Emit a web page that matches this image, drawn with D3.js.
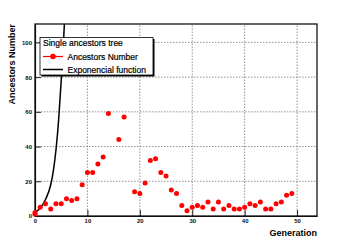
<!DOCTYPE html>
<html lang="en">
<head>
    <meta charset="UTF-8">
    <script src="https://cdn.jsdelivr.net/npm/d3@7"></script>
    <title>Single ancestors tree</title>
    <style>
        html, body {
            margin: 0px;
            padding: 0px;
            background-color: #ffffff;
            font-family: "Liberation Sans", Arial, sans-serif;
        }
        #chart {
            display: block;
        }
        .leg-text {
            font-size: 8.5px;
            stroke: #000;
            stroke-width: 0.2px;
        }
    </style>
</head>
<body>
    <div id="chart"></div>

    <script>
        // data
        let generation = [0, 0, 1, 2, 3, 4, 5, 6, 7, 8, 9, 10, 11, 12, 13, 14, 16, 17, 19, 20,
            21, 22, 23, 24, 25, 26, 27, 28, 29, 30, 31, 32, 33, 34, 35, 36, 37, 38, 39,
            40, 41, 42, 43, 44, 45, 46, 47, 48, 49];
        let ancestors = [1, 2, 5, 7, 4, 7, 7, 10, 9, 10, 18, 25, 25, 30, 34, 59, 44, 57, 14, 13,
            19, 32, 33, 25, 23, 15, 13, 6, 3, 5, 6, 5, 8, 4, 8, 4, 6, 4, 4,
            5, 7, 6, 8, 4, 4, 7, 8, 12, 13];

        // exponential curve, points
        let expGen = [0, 1, 2, 3, 3.5, 4, 4.5, 5, 5.5, 6, 6.3];
        let expVal = [2, 4.6, 9.5, 18, 26, 38, 55, 78, 104, 140, 170];

        let xTicks = [0, 10, 20, 30, 40, 50];
        let yTicks = [0, 20, 40, 60, 80, 100];

        let width = 354;
        let height = 240;
        let margin = {top: 24, right: 37, bottom: 24, left: 35};

        let svg = d3.select('#chart').append('svg')
            .attr('width', width)
            .attr('height', height);

        let x = d3.scaleLinear().domain([0, 53.8]).range([margin.left, width - margin.right]);
        let y = d3.scaleLinear().domain([0, 110.6]).range([height - margin.bottom, margin.top]);

        svg.append('clipPath').attr('id', 'frame-clip')
            .append('rect')
            .attr('x', margin.left).attr('y', margin.top)
            .attr('width', x.range()[1] - margin.left)
            .attr('height', y.range()[0] - margin.top);

        // grid
        let grid = svg.append('g').attr('stroke', '#777').attr('stroke-width', 0.8)
            .attr('stroke-dasharray', '1.5,1.5');
        grid.selectAll('.gx').data(xTicks.filter(d => d > 0)).join('line')
            .attr('x1', d => x(d)).attr('x2', d => x(d))
            .attr('y1', y.range()[0]).attr('y2', y.range()[1]);
        grid.selectAll('.gy').data(yTicks.filter(d => d > 0)).join('line')
            .attr('x1', x.range()[0]).attr('x2', x.range()[1])
            .attr('y1', d => y(d)).attr('y2', d => y(d));

        // axes, ticks pointing inside like ROOT
        let xAxis = svg.append('g')
            .attr('transform', `translate(0,${y.range()[0]})`)
            .call(d3.axisBottom(x).tickValues(xTicks).tickSizeInner(-6).tickSizeOuter(0).tickPadding(3));
        let yAxis = svg.append('g')
            .attr('transform', `translate(${x.range()[0]},0)`)
            .call(d3.axisLeft(y).tickValues(yTicks).tickSizeInner(-6).tickSizeOuter(0).tickPadding(3));
        [xAxis, yAxis].forEach(a => {
            a.selectAll('text')
                .attr('font-size', 6)
                .attr('font-weight', 'bold')
                .attr('font-family', '"Liberation Sans", Arial, sans-serif')
                .attr('fill', '#111');
            a.selectAll('.tick line').attr('stroke', '#222');
            a.select('.domain').attr('stroke', '#222').attr('stroke-width', 1.2);
        });

        // frame top / right
        svg.append('rect')
            .attr('x', x.range()[0]).attr('y', margin.top)
            .attr('width', x.range()[1] - x.range()[0])
            .attr('height', y.range()[0] - margin.top)
            .attr('fill', 'none').attr('stroke', '#000').attr('stroke-width', 1.2);

        // exponential function
        let line = d3.line()
            .x((d, i) => x(expGen[i]))
            .y(d => y(d))
            .curve(d3.curveMonotoneX);
        svg.append('path')
            .datum(expVal)
            .attr('clip-path', 'url(#frame-clip)')
            .attr('d', line)
            .attr('fill', 'none')
            .attr('stroke', '#000')
            .attr('stroke-width', 1.5);

        // data points
        svg.append('g').selectAll('circle')
            .data(ancestors)
            .join('circle')
            .attr('cx', (d, i) => x(generation[i]))
            .attr('cy', d => y(d))
            .attr('r', 2.5)
            .attr('fill', '#ff0000');

        // axis titles
        svg.append('text')
            .attr('transform', `translate(15,${margin.top}) rotate(-90)`)
            .attr('text-anchor', 'end')
            .attr('font-size', 9)
            .attr('font-weight', 'bold')
            .text('Ancestors Number');
        svg.append('text')
            .attr('x', x.range()[1])
            .attr('y', 236)
            .attr('text-anchor', 'end')
            .attr('font-size', 9)
            .attr('font-weight', 'bold')
            .text('Generation');

        // legend
        let legend = svg.append('g').attr('transform', 'translate(40,37.5)');
        legend.append('rect')
            .attr('x', 1.5).attr('y', 1.5).attr('width', 113).attr('height', 37.5)
            .attr('fill', '#000');
        legend.append('rect')
            .attr('width', 113).attr('height', 37.5)
            .attr('fill', '#fff').attr('stroke', '#000').attr('stroke-width', 0.8);
        legend.append('text')
            .attr('class', 'leg-text')
            .attr('x', 3).attr('y', 8.8)
            .text('Single ancestors tree');
        legend.append('line')
            .attr('x1', 3).attr('x2', 23).attr('y1', 19).attr('y2', 19)
            .attr('stroke', '#ff0000').attr('stroke-width', 1.2);
        legend.append('circle')
            .attr('cx', 13).attr('cy', 19).attr('r', 2.8).attr('fill', '#ff0000');
        legend.append('text')
            .attr('class', 'leg-text')
            .attr('x', 27.5).attr('y', 22)
            .text('Ancestors Number');
        legend.append('line')
            .attr('x1', 3).attr('x2', 23).attr('y1', 32).attr('y2', 32)
            .attr('stroke', '#000').attr('stroke-width', 1.5);
        legend.append('text')
            .attr('class', 'leg-text')
            .attr('x', 27.5).attr('y', 35)
            .attr('font-size', 8)
            .text('Exponencial function');
    </script>
</body>
</html>
